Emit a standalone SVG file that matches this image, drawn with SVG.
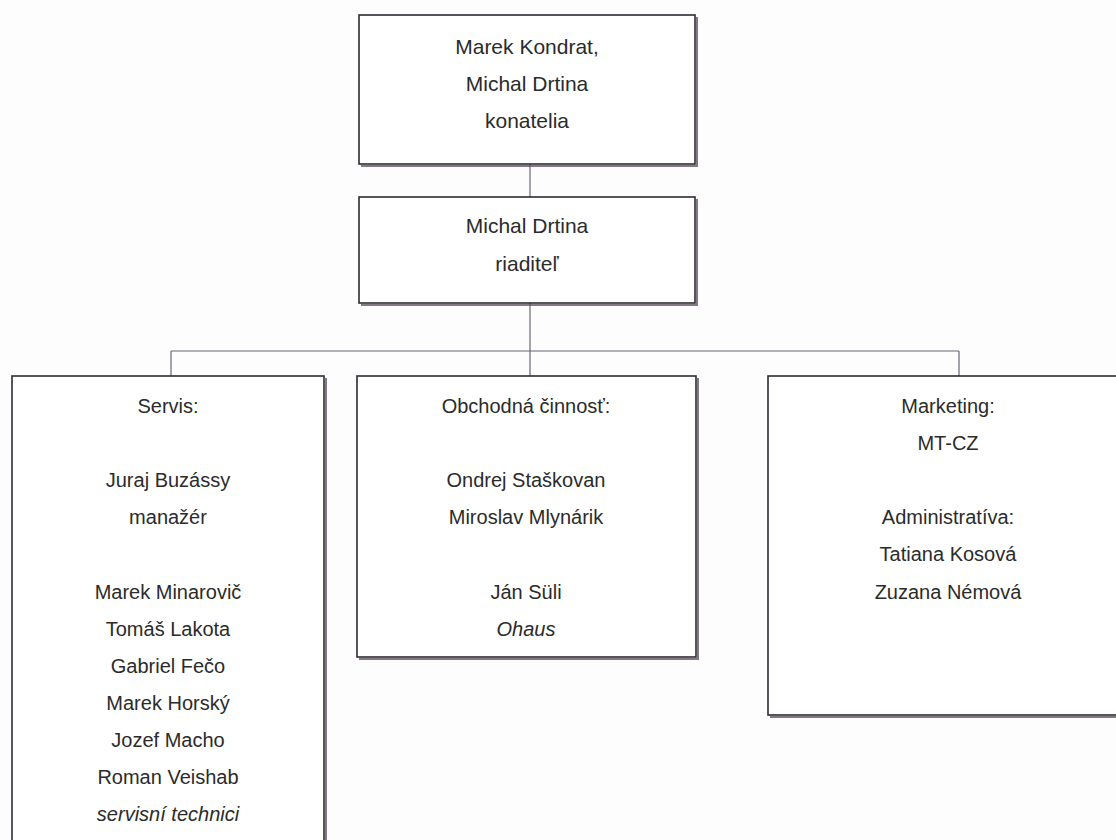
<svg xmlns="http://www.w3.org/2000/svg" width="1116" height="840" viewBox="0 0 1116 840">
<style>
.bg{fill:#fdfdfd}
.box{fill:#ffffff;stroke:#2e2a33;stroke-width:1.6}
.sh{fill:none;stroke:#5a4c5c;stroke-width:2;opacity:0.75}
.conn{fill:none;stroke:#6a6478;stroke-width:1.2}
text{font-family:"Liberation Sans",Arial,sans-serif;font-size:20px;fill:#2b2b2b;text-anchor:middle}
.t21{font-size:21px}
.it{font-style:italic}
</style>
<rect class="bg" x="0" y="0" width="1116" height="840"/>
<g id="connectors">
<line class="conn" x1="530" y1="164" x2="530" y2="197"/>
<line class="conn" x1="530" y1="303" x2="530" y2="376"/>
<line class="conn" x1="171" y1="351" x2="959" y2="351"/>
<line class="conn" x1="171" y1="351" x2="171" y2="376"/>
<line class="conn" x1="959" y1="351" x2="959" y2="376"/>
</g>
<g id="konatelia">
<rect class="box" x="359" y="15" width="336" height="149"/>
<polyline class="sh" points="361,166 697,166 697,17"/>
<text class="t21" x="527" y="54">Marek Kondrat,</text>
<text class="t21" x="527" y="91">Michal Drtina</text>
<text class="t21" x="527" y="128">konatelia</text>
</g>
<g id="riaditel">
<rect class="box" x="359" y="197" width="336" height="106"/>
<polyline class="sh" points="361,305 697,305 697,199"/>
<text class="t21" x="527" y="233">Michal Drtina</text>
<text class="t21" x="527" y="271">riaditeľ</text>
</g>
<g id="servis">
<rect class="box" x="12" y="376" width="312" height="480"/>
<polyline class="sh" points="326,378 326,842"/>
<text x="168" y="413">Servis:</text>
<text x="168" y="487">Juraj Buzássy</text>
<text x="168" y="524">manažér</text>
<text x="168" y="599">Marek Minarovič</text>
<text x="168" y="636">Tomáš Lakota</text>
<text x="168" y="673">Gabriel Fečo</text>
<text x="168" y="710">Marek Horský</text>
<text x="168" y="747">Jozef Macho</text>
<text x="168" y="784">Roman Veishab</text>
<text class="it" x="168" y="821">servisní technici</text>
</g>
<g id="obchod">
<rect class="box" x="357" y="376" width="339" height="281"/>
<polyline class="sh" points="359,659 698,659 698,378"/>
<text x="526" y="413">Obchodná činnosť:</text>
<text x="526" y="487">Ondrej Staškovan</text>
<text x="526" y="524">Miroslav Mlynárik</text>
<text x="526" y="599">Ján Süli</text>
<text class="it" x="526" y="636">Ohaus</text>
</g>
<g id="marketing">
<rect class="box" x="768" y="376" width="362" height="339"/>
<polyline class="sh" points="770,717 1132,717"/>
<text x="948" y="413">Marketing:</text>
<text x="948" y="450">MT-CZ</text>
<text x="948" y="524">Administratíva:</text>
<text x="948" y="561">Tatiana Kosová</text>
<text x="948" y="599">Zuzana Némová</text>
</g>
</svg>
